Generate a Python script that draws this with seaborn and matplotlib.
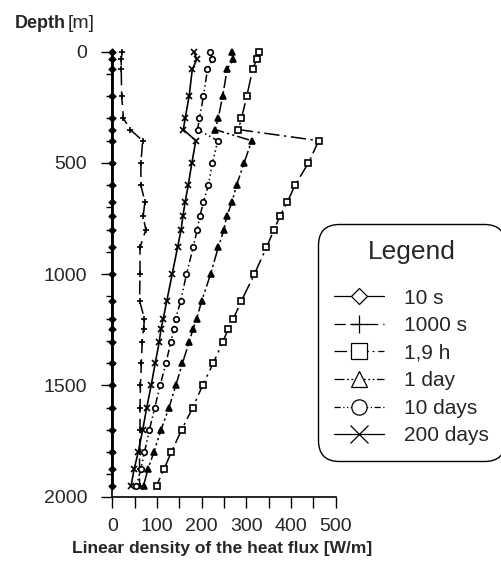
import matplotlib
matplotlib.use("Agg")
import matplotlib.pyplot as plt
from matplotlib.lines import Line2D
from matplotlib.ticker import MultipleLocator
import seaborn as sns
import pandas as pd

# ---- data ----
depth = [0, 35, 80, 200, 300, 350, 400, 500, 600, 675, 740, 800, 880, 1000,
         1120, 1200, 1245, 1305, 1400, 1500, 1600, 1700, 1800, 1875, 1950]
flux_10s = [0, 0, 0, 0, 0, 0, 0, 0, 0, 0, 0, 0, 0, 0,
            0, 0, 0, 0, 0, 0, 0, 0, 0, 0, 0]
flux_1000s = [22, 20, 20, 21, 25, 40, 68, 64, 64, 73, 69, 75, 62, 62,
              61, 72, 70, 67, 65, 63, 62, 62, 61, 61, 61]
flux_19h = [328, 323, 314, 301, 289, 282, 462, 439, 409, 392, 375, 362, 345, 318,
            289, 271, 260, 247, 226, 202, 180, 155, 132, 116, 99]
flux_1day = [268, 270, 257, 247, 237, 230, 312, 295, 278, 268, 256, 250, 237, 220,
             200, 189, 181, 172, 157, 142, 127, 109, 93, 80, 70]
flux_10days = [219, 224, 213, 204, 195, 191, 236, 224, 215, 204, 196, 190, 181, 166,
               153, 142, 138, 131, 120, 107, 95, 83, 72, 64, 54]
flux_200days = [183, 189, 179, 172, 163, 159, 187, 178, 170, 163, 158, 154, 146, 134,
                122, 114, 109, 105, 96, 87, 77, 68, 58, 49, 42]

series_names = ["10 s", "1000 s", "1,9 h", "1 day", "10 days", "200 days"]
series_values = [flux_10s, flux_1000s, flux_19h, flux_1day, flux_10days, flux_200days]

x_ticks = [0, 100, 200, 300, 400, 500]
y_ticks = [0, 500, 1000, 1500, 2000]

# ---- styles ----
markers = ["D", "+", "s", "^", "o", "x"]
dashes = ["-", (0, (9, 4)), (0, (10, 3, 1.5, 3)), (0, (8, 2, 1.5, 2, 1.5, 2)),
          (0, (5, 2, 1, 2, 1, 2, 1, 2)), "-"]
lwidths = [2.0, 1.1, 1.1, 1.1, 1.1, 1.2]
msizes = [3.2, 5.0, 3.8, 4.2, 4.0, 4.8]
mfaces = ["black", "black", "white", "black", "white", "black"]
leg_msizes = [8.5, 13, 11.5, 11.5, 11, 13]

sns.set_theme(style="ticks")
plt.rcParams["font.family"] = ["Liberation Sans", "DejaVu Sans"]

fig = plt.figure(figsize=(5.02, 5.72), dpi=100)
ax = fig.add_axes([112.3 / 502, 1 - 496.7 / 572, (335.7 - 112.3) / 502, (496.7 - 51.7) / 572])

for name, vals, mk, ls, lw, ms, mf in zip(series_names, series_values, markers,
                                          dashes, lwidths, msizes, mfaces):
    df = pd.DataFrame({"flux": vals, "depth": depth})
    sns.lineplot(data=df, x="flux", y="depth", sort=False, estimator=None, ax=ax,
                 color="black", marker=mk, linestyle=ls, linewidth=lw,
                 markersize=ms, markerfacecolor=mf,
                 markeredgecolor="black", markeredgewidth=1.2,
                 clip_on=False, legend=False)

ax.set_xlim(0, 500)
ax.set_ylim(2000, 0)
ax.set_xticks(x_ticks)
ax.xaxis.set_minor_locator(MultipleLocator(50))
ax.set_yticks(y_ticks)
ax.yaxis.set_minor_locator(MultipleLocator(100))
ax.set_xticklabels([str(v) for v in x_ticks])
ax.set_yticklabels([str(v) for v in y_ticks])
ax.tick_params(axis="x", which="both", length=8, width=1, color="black",
               labelsize=14, pad=7, direction="out")
ax.tick_params(axis="y", which="major", length=8, width=1, color="black",
               labelsize=14, pad=10, direction="out")
ax.tick_params(axis="y", which="minor", length=4.5, width=1, color="black", direction="out")
for s in ("top", "right"):
    ax.spines[s].set_visible(False)
for s in ("left", "bottom"):
    ax.spines[s].set_color("black")
    ax.spines[s].set_linewidth(1.2)
ax.set_xlabel("")
ax.set_ylabel("")

fig.text(222 / 502, 1 - 553 / 572, "Linear density of the heat flux [W/m]",
         ha="center", va="baseline", fontsize=12.5, fontweight="bold")
fig.text(15 / 502, 1 - 28 / 572, "Depth", ha="left", va="baseline",
         fontsize=13, fontweight="bold")
fig.text(68 / 502, 1 - 28 / 572, "[m]", ha="left", va="baseline", fontsize=14)

# ---- legend ----
handles = []
for name, mk, ls, lms in zip(series_names, markers, dashes, leg_msizes):
    handles.append(Line2D([0], [0], color="black", linestyle=ls, linewidth=0.9,
                          marker=mk, markersize=lms, markerfacecolor="white",
                          markeredgecolor="black", markeredgewidth=0.9))
leg = fig.legend(handles=handles, labels=series_names, title="Legend",
                 loc="upper left", bbox_to_anchor=(318 / 502, 1 - 224 / 572),
                 bbox_transform=fig.transFigure, borderaxespad=0,
                 fontsize=15, title_fontsize=19, handlelength=2.4,
                 handletextpad=1.0, labelspacing=0.41, borderpad=0.75,
                 frameon=True, fancybox=True)
leg._legend_box.sep = 18
frame = leg.get_frame()
frame.set_edgecolor("black")
frame.set_linewidth(1.0)
frame.set_facecolor("white")
frame.set_alpha(1)
frame.set_boxstyle("round", pad=0, rounding_size=1.0)

fig.savefig("out.png", dpi=100)
